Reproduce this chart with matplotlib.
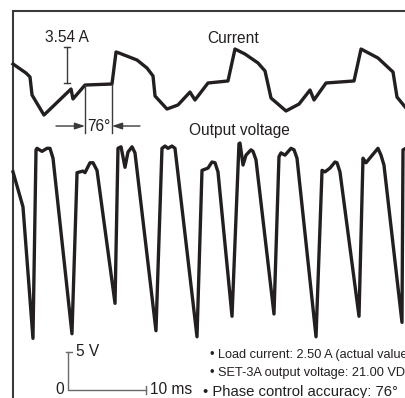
import matplotlib
matplotlib.use("Agg")
import matplotlib.pyplot as plt

plt.rcParams['font.family'] = ['Liberation Sans', 'DejaVu Sans']

# ---- data (time in ms, current in A with display offset, voltage in V) ----
current_t = [0.0, 1.67, 2.18, 2.44, 3.97, 7.44, 7.69, 9.23, 12.69, 13.21, 13.59,
             15.90, 17.18, 17.95, 18.21, 19.74, 21.15, 22.69, 23.33, 25.00, 27.56,
             28.46, 29.74, 31.41, 32.31, 33.08, 35.00, 36.67, 38.08, 38.59, 40.13,
             43.72, 44.62, 46.79, 48.72, 49.23, 50.38]
current_a = [6.00, 5.11, 4.72, 2.95, 0.98, 3.54, 2.56, 3.93, 4.03, 7.18, 7.08,
             6.39, 5.60, 4.82, 2.85, 1.57, 1.97, 3.24, 2.46, 4.13, 4.33,
             7.47, 6.98, 6.10, 5.31, 2.65, 1.38, 2.06, 3.44, 2.46, 4.13,
             4.33, 7.47, 6.59, 5.21, 2.75, 1.67]

voltage_t = [0.0, 1.28, 2.56, 2.95, 3.08, 3.72, 4.36, 4.74, 5.13, 7.56,
             8.21, 8.97, 9.23, 9.87, 10.26, 10.77, 13.08,
             13.46, 13.85, 14.36, 14.74, 15.26, 15.64, 18.33,
             19.10, 19.49, 19.87, 20.38, 20.77, 23.59,
             24.23, 25.00, 25.51, 25.90, 26.28, 28.08,
             28.97, 29.10, 29.49, 29.87, 30.51, 30.77, 31.15, 33.46,
             34.10, 34.36, 34.87, 35.64, 36.03, 36.41, 38.85,
             39.62, 40.00, 40.64, 41.28, 41.54, 41.92, 44.36,
             44.87, 45.26, 45.90, 46.79, 47.18, 47.56, 49.87,
             50.00, 50.38]
voltage_v = [28.7, 24.1, 6.8, 31.6, 31.8, 31.4, 31.8, 31.8, 30.5, 7.4,
             28.6, 28.8, 28.6, 29.9, 29.9, 28.9, 11.4,
             31.8, 32.0, 29.3, 31.3, 32.0, 31.2, 7.8,
             31.8, 32.1, 31.8, 32.1, 31.8, 7.0,
             28.9, 29.2, 30.0, 29.9, 28.7, 9.7,
             32.4, 32.5, 29.6, 30.9, 31.6, 31.4, 30.3, 10.0,
             30.7, 31.2, 30.9, 31.8, 31.6, 30.5, 7.0,
             28.9, 28.7, 29.2, 30.0, 29.9, 28.7, 9.7,
             30.5, 29.9, 30.7, 31.8, 30.9, 29.6, 8.9,
             31.6, 31.8]

current_step_a = 3.54
phase_deg = 76
notes = ["Load current: 2.50 A (actual value)",
         "SET-3A output voltage: 21.00 VDC",
         "Phase control accuracy: 76°"]

# ---- figure ----
fig = plt.figure(figsize=(4.06, 3.98), dpi=100)
ax = fig.add_axes([0, 0, 1, 1])
ax.set_xlim(-13 / 7.8, 393 / 7.8)
ax.set_ylim(-8 / 7.6, 390 / 7.6)
ax.axis('off')
ax2 = ax.twinx()
ax2.set_ylim((125 - 398) / 10.17, 125 / 10.17)
ax2.axis('off')

ink = '#231f20'
gray = '#3a3a3a'

# frame (top and left)
ax.plot([-0.06, -0.06, 51], [-2, 49.87, 49.87], color=gray, lw=1.5,
        solid_joinstyle='miter', clip_on=False)

# traces
ax2.plot(current_t, current_a, color=ink, lw=2.4, solid_joinstyle='round')
ax.plot(voltage_t, voltage_v, color=ink, lw=2.4, solid_joinstyle='round')

# 3.54 A bar
bx = 6.92
lo, hi = 4.1, 4.1 + current_step_a
ax2.plot([bx, bx], [lo, hi], color=gray, lw=1.0)
ax2.plot([bx - 0.38, bx + 0.38], [lo, lo], color=gray, lw=1.0)
ax2.plot([bx - 0.38, bx + 0.38], [hi, hi], color=gray, lw=1.0)
ax2.text(bx, hi + 1.0, f"{current_step_a:.2f} A", ha='center', va='center',
         fontsize=11.2, color=ink)

# 76 degree annotation
t1, t2 = current_t[7], current_t[8]
ax2.plot([t1, t1], [current_a[7], -0.8], color=gray, lw=1.0)
ax2.plot([t2, t2], [current_a[8], -0.8], color=gray, lw=1.0)
ya = -0.10
arrow_kw = dict(arrowstyle='-|>,head_length=0.6,head_width=0.2', color=gray,
                lw=1.0, shrinkA=0, shrinkB=0)
ax2.annotate('', xy=(t1, ya), xytext=(5.51, ya), arrowprops=arrow_kw)
ax2.annotate('', xy=(t2, ya), xytext=(16.28, ya), arrowprops=arrow_kw)
ax2.text((t1 + t2) / 2, ya, f"{phase_deg}°", ha='center', va='center',
         fontsize=11.2, color=ink)

ax2.text(28.2, 8.46, "Current", ha='center', va='center', fontsize=11.2, color=ink)
ax.text(29.04, 34.2, "Output voltage", ha='center', va='center', fontsize=11.2, color=ink)

# scale bar
sc = '#6a6a6a'
x0 = 7.05
ax.plot([x0, x0, x0 + 10], [5, 0, 0], color=sc, lw=1.0)
ax.plot([x0 - 0.25, x0 + 0.5], [5, 5], color=sc, lw=1.0)
ax.plot([x0 + 10, x0 + 10], [-0.55, 0.55], color=sc, lw=1.0)
ax.text(x0 - 0.55, 0, "0", ha='right', va='center', fontsize=11.2, color=ink)
ax.text(x0 + 1.0, 5.05, "5 V", ha='left', va='center', fontsize=11.2, color=ink)
ax.text(x0 + 10.5, 0, "10 ms", ha='left', va='center', fontsize=11.2, color=ink)

# notes
ax.text(25.2, 4.6, "• " + notes[0], ha='left', va='center', fontsize=9.2,
        color=ink, clip_on=False)
ax.text(25.2, 2.24, "• " + notes[1], ha='left', va='center', fontsize=9.2,
        color=ink, clip_on=False)
ax.text(24.36, -0.26, "• " + notes[2], ha='left', va='center', fontsize=10.7,
        color=ink, clip_on=False)

fig.savefig("out.png", dpi=100)
